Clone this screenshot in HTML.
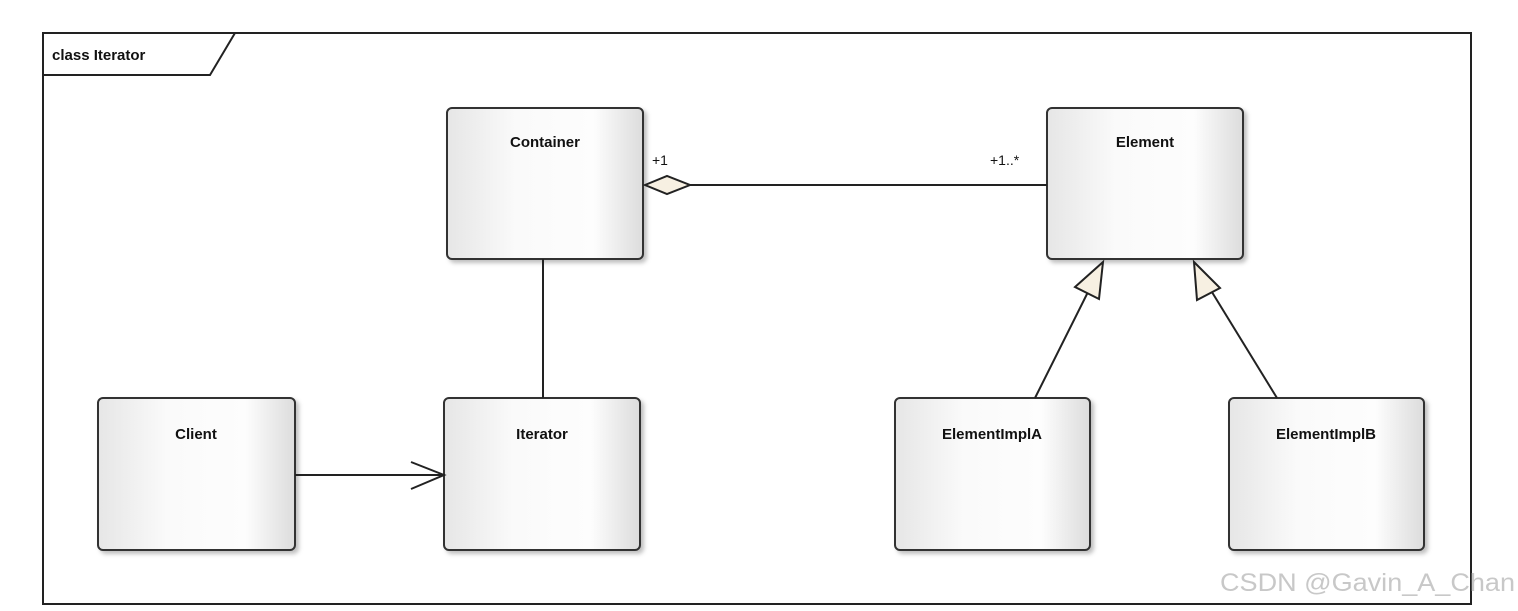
<!DOCTYPE html>
<html><head><meta charset="utf-8"><style>
body{margin:0;background:#fff;width:1518px;height:606px;overflow:hidden}
svg text{font-family:"Liberation Sans",Arial,sans-serif}
</style></head><body>
<svg width="1518" height="606" xmlns="http://www.w3.org/2000/svg">
<defs>
<linearGradient id="g" x1="0" y1="0" x2="1" y2="0">
<stop offset="0" stop-color="#e6e6e6"/><stop offset="0.35" stop-color="#fafafa"/><stop offset="0.75" stop-color="#fdfdfd"/><stop offset="1" stop-color="#dcdcdc"/>
</linearGradient>
<filter id="s" x="-10%" y="-10%" width="130%" height="130%"><feDropShadow dx="3" dy="3" stdDeviation="2" flood-color="#000" flood-opacity="0.25"/></filter>
</defs>
<rect x="43" y="33" width="1428" height="571" fill="#fff" stroke="#222" stroke-width="2"/>
<path d="M43 75 H210 L235 33" fill="none" stroke="#222" stroke-width="2"/>
<text x="52" y="60" font-size="15" font-weight="bold" fill="#111">class Iterator</text>
<g stroke="#333" stroke-width="2" fill="url(#g)" filter="url(#s)">
<rect x="447" y="108" width="196" height="151" rx="5"/>
<rect x="1047" y="108" width="196" height="151" rx="5"/>
<rect x="98" y="398" width="197" height="152" rx="5"/>
<rect x="444" y="398" width="196" height="152" rx="5"/>
<rect x="895" y="398" width="195" height="152" rx="5"/>
<rect x="1229" y="398" width="195" height="152" rx="5"/>
</g>
<g font-size="15" font-weight="bold" fill="#111" text-anchor="middle">
<text x="545" y="147">Container</text>
<text x="1145" y="147">Element</text>
<text x="196" y="439">Client</text>
<text x="542" y="439">Iterator</text>
<text x="992" y="439">ElementImplA</text>
<text x="1326" y="439">ElementImplB</text>
</g>
<g stroke="#222" stroke-width="2" fill="none">
<line x1="690" y1="185" x2="1047" y2="185"/>
<line x1="543" y1="259" x2="543" y2="398"/>
<line x1="295" y1="475" x2="444" y2="475"/>
<path d="M411 462 L444 475 L411 489"/>
<line x1="1035" y1="398" x2="1092" y2="284"/>
<line x1="1277" y1="398" x2="1207" y2="284"/>
</g>
<path d="M645 185 L667 176 L690 185 L667 194 Z" fill="#f7f0e2" stroke="#222" stroke-width="2"/>
<path d="M1103 262 L1099 299 L1075 287 Z" fill="#f7f0e2" stroke="#222" stroke-width="2"/>
<path d="M1194 262 L1220 288 L1197 300 Z" fill="#f7f0e2" stroke="#222" stroke-width="2"/>
<text x="652" y="165" font-size="14" fill="#111">+1</text>
<text x="990" y="165" font-size="14" fill="#111">+1..*</text>
<text x="1220" y="591" font-size="25" fill="#c8c8c8" textLength="295" lengthAdjust="spacingAndGlyphs">CSDN @Gavin_A_Chan</text>
</svg>
</body></html>
